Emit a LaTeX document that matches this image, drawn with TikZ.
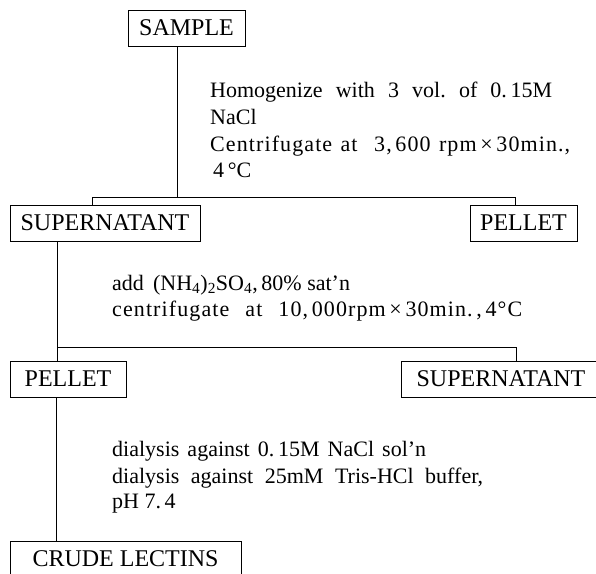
\documentclass[tikz,border=0pt]{standalone}
\usepackage{fontspec}
\setmainfont{Liberation Serif}
\newfontfamily\spacedserif[LetterSpace=5]{Liberation Serif}
\begin{document}
\frenchspacing
\begin{tikzpicture}[x=1pt,y=-1pt,
  box/.style={draw, line width=1pt, inner sep=0pt, font=\fontsize{24}{28}\selectfont},
  txt/.style={anchor=base west, inner sep=0pt, font=\fontsize{22}{26}\selectfont},
  conn/.style={line width=1pt}]
\useasboundingbox (0,0) rectangle (596,573);
\clip (0,0) rectangle (596,573);
% boxes
\node[box, minimum width=117, minimum height=36] (sample) at (186.5,28) {SAMPLE};
\node[box, minimum width=190, minimum height=36] (sup1) at (105,223) {SUPERNATANT};
\node[box, minimum width=107, minimum height=36] (pel1) at (523.5,223) {PELLET};
\node[box, minimum width=116, minimum height=36] (pel2) at (68,379) {PELLET};
\node[box, minimum width=200, minimum height=36] (sup2) at (501,379) {SUPERNATANT};
\node[box, minimum width=231, minimum height=36] (crude) at (125.5,559) {CRUDE LECTINS};
% junction coordinates
\coordinate (j0) at (177,197);
\coordinate (h1l) at (92,197);
\coordinate (h1r) at (515,197);
\coordinate (j2) at (57,347);
\coordinate (h2r) at (516,347);
\coordinate (j3) at (56,541);
% connectors
\draw[conn] (sample.south -| j0) -- (j0);
\draw[conn] (h1l |- sup1.north) -- (h1l) -- (h1r) -- (h1r |- pel1.north);
\draw[conn] (sup1.south -| j2) -- (j2) -- (h2r) -- (h2r |- sup2.north);
\draw[conn] (j2) -- (j2 |- pel2.north);
\draw[conn] (pel2.south -| j3) -- (crude.north -| j3);
% texts
\node[txt] (b1a) at (210,97) {\makebox[342pt][s]{Homogenize with 3 vol. of 0.\,15M}};
\node[txt] (b1b) at (210,124) {NaCl};
\node[txt] (b1c) at (210,151) {\spacedserif\makebox[360pt][s]{Centrifugate at \ 3,\,600 rpm\,×\,30min.,}};
\node[txt] (b1d) at (213,177) {4\,°C};
\node[txt] (b2a) at (112,290) {add \,(NH\textsubscript{4})\textsubscript{2}SO\textsubscript{4},\,80\% sat'n};
\node[txt] (b2b) at (112,316) {\spacedserif\makebox[410pt][s]{centrifugate at 10,\,000rpm\,×\,30min.\,,\,4°C}};
\node[txt] (b3a) at (112,456) {\makebox[314pt][s]{dialysis against 0.\,15M NaCl sol'n}};
\node[txt] (b3b) at (112,483) {\makebox[371pt][s]{dialysis against 25mM Tris-HCl buffer,}};
\node[txt] (b3c) at (112,508) {pH 7.\,4};
\end{tikzpicture}
\end{document}
